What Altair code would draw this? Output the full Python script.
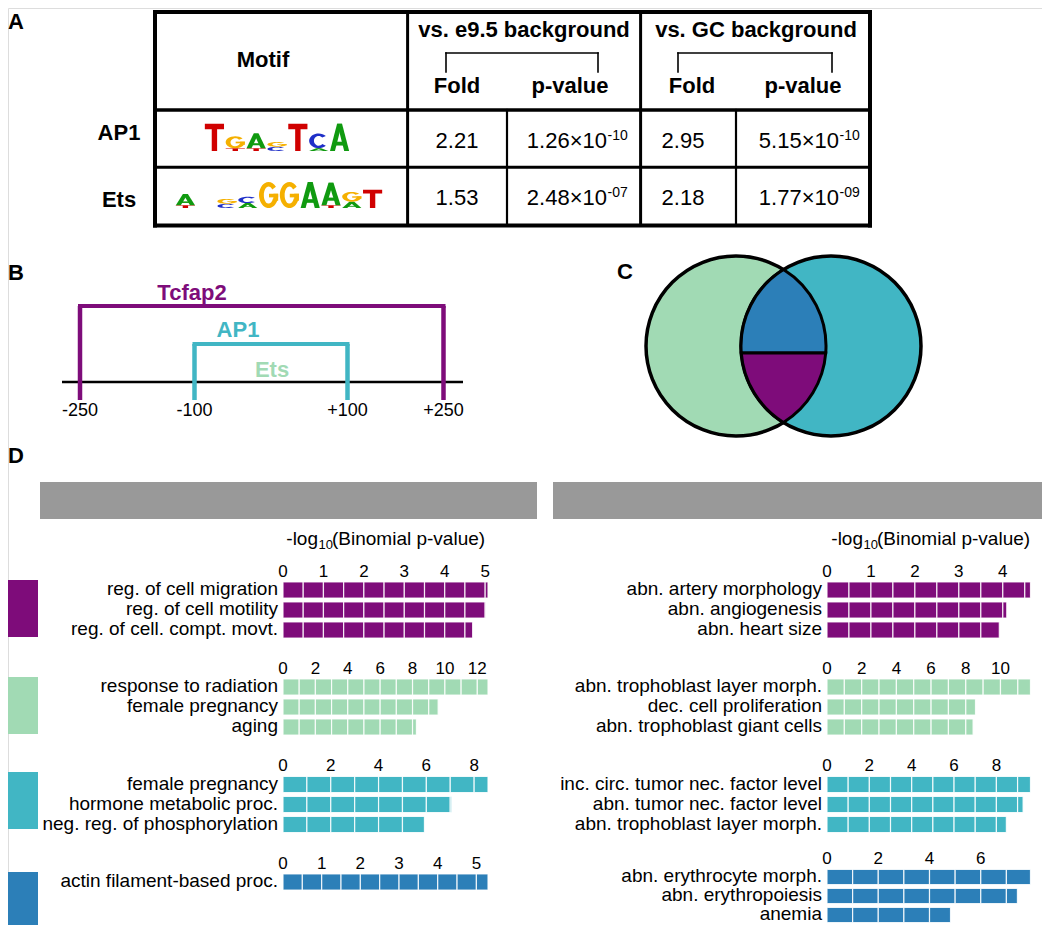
import math
import altair as alt
import pandas as pd

# ---------------------------------------------------------------- values
# Panel A : motif enrichment table
motifs = ["AP1", "Ets"]
fold_e95 = [2.21, 1.53]
pval_e95 = ["1.26", "2.48"]
pval_e95_exp = ["-10", "-07"]
fold_gc = [2.95, 2.18]
pval_gc = ["5.15", "1.77"]
pval_gc_exp = ["-10", "-09"]
motif_header = "Motif"
background_headers = ["vs. e9.5 background", "vs. GC background"]
sub_headers = ["Fold", "p-value"]

# sequence logos: one stack per position, (letter, bits) from bottom to top
ap1_logo = [[("T", 1.95)], [("T", 0.2), ("G", 0.85)], [("T", 0.2), ("A", 1.05)],
            [("C", 0.3), ("G", 0.35)], [("T", 1.95)], [("A", 0.2), ("C", 1.05)],
            [("A", 1.95)]]
ets_logo = [[("T", 0.2), ("A", 0.8)], [], [("C", 0.3), ("G", 0.35)],
            [("A", 0.35), ("C", 0.45)], [("G", 1.85)], [("G", 1.85)], [("A", 1.85)],
            [("T", 0.2), ("A", 1.6)], [("A", 0.45), ("G", 0.7)], [("T", 1.3)]]

# Panel B : motif windows around the peak
windows = ["Tcfap2", "AP1"]
window_start = [-250, -100]
window_end = [250, 100]
b_labels = ["Tcfap2", "AP1", "Ets"]
b_ticks = [-250, -100, 100, 250]
b_tick_labels = ["-250", "-100", "+100", "+250"]

# Panel C : Venn sets
venn_sets = ["Ets", "AP1"]

# Panel D : enrichment bars (-log10 binomial p-value)
left_cats = [
    ["reg. of cell migration", "reg. of cell motility", "reg. of cell. compt. movt."],
    ["response to radiation", "female pregnancy", "aging"],
    ["female pregnancy", "hormone metabolic proc.", "neg. reg. of phosphorylation"],
    ["actin filament-based proc."],
]
left_vals = [[5.07, 5.01, 4.69], [12.66, 9.58, 8.24], [8.58, 7.06, 5.92], [5.30]]
left_ticks = [[0, 1, 2, 3, 4, 5], [0, 2, 4, 6, 8, 10, 12], [0, 2, 4, 6, 8], [0, 1, 2, 3, 4, 5]]
right_cats = [
    ["abn. artery morphology", "abn. angiogenesis", "abn. heart size"],
    ["abn. trophoblast layer morph.", "dec. cell proliferation", "abn. trophoblast giant cells"],
    ["inc. circ. tumor nec. factor level", "abn. tumor nec. factor level",
     "abn. trophoblast layer morph."],
    ["abn. erythrocyte morph.", "abn. erythropoiesis", "anemia"],
]
right_vals = [[4.63, 4.09, 3.92], [11.73, 8.56, 8.42], [9.61, 9.26, 8.47], [7.94, 7.43, 4.82]]
right_ticks = [[0, 1, 2, 3, 4], [0, 2, 4, 6, 8, 10], [0, 2, 4, 6, 8], [0, 2, 4, 6]]
axis_title = ["-log", "10", "(Binomial p-value)"]

# ---------------------------------------------------------------- style / layout
OFF = 8
W, H = 1034, 917


def px(v):
    return v - OFF


FONT = "Liberation Sans, Arial, Helvetica, sans-serif"
PURPLE = "#7e0c7a"
GREEN = "#a1dab4"
CYAN = "#41b6c4"
BLUE = "#2c7fb8"
GRAY = "#999999"
group_colors = [PURPLE, GREEN, CYAN, BLUE]
LOGO_COLORS = {"A": "#109a10", "C": "#1f2fc8", "G": "#f5b000", "T": "#d00000"}
left_steps = [0.5, 1, 1, 0.5]
right_steps = [0.5, 1, 1, 1]


def text_layer(rows, size, weight="normal", align="center", color="black", font=FONT):
    df = pd.DataFrame([{"t": t, "x": px(x), "y": px(y)} for t, x, y in rows])
    return alt.Chart(df).mark_text(font=font, fontSize=size, fontWeight=weight, align=align,
                                   baseline="alphabetic", color=color).encode(
        x=alt.X("x:Q", scale=None, axis=None),
        y=alt.Y("y:Q", scale=None, axis=None),
        text="t:N")


def rule_layer(segs, color="black", cap="square"):
    df = pd.DataFrame([{"x1": px(a), "x2": px(b), "y1": px(c), "y2": px(d), "w": w}
                       for a, b, c, d, w in segs])
    return alt.Chart(df).mark_rule(color=color, strokeCap=cap).encode(
        x=alt.X("x1:Q", scale=None, axis=None), x2="x2:Q",
        y=alt.Y("y1:Q", scale=None, axis=None), y2="y2:Q",
        strokeWidth=alt.StrokeWidth("w:Q", scale=None, legend=None))


def rect_layer(rects):
    df = pd.DataFrame([{"x1": px(a), "x2": px(b), "y1": px(c), "y2": px(d), "c": col}
                       for a, b, c, d, col in rects])
    return alt.Chart(df).mark_rect().encode(
        x=alt.X("x1:Q", scale=None, axis=None), x2="x2:Q",
        y=alt.Y("y1:Q", scale=None, axis=None), y2="y2:Q",
        color=alt.Color("c:N", scale=None, legend=None))


layers = []

# ---------------------------------------------------------------- Panel A
TL, TR, TT, TB = 155, 870, 12, 225.5
HB, RS = 110, 167.3
layers.append(rule_layer([
    (TL, TR, TT, TT, 4), (TL, TR, TB, TB, 4), (TL, TL, TT, TB, 4), (TR, TR, TT, TB, 4),
    (TL, TR, HB, HB, 3.5), (TL, TR, RS, RS, 3),
    (407.6, 407.6, TT, TB, 3), (640.6, 640.6, TT, TB, 3),
    (507, 507, HB, TB, 2.2), (736, 736, HB, TB, 2.2),
    (446, 598, 53, 53, 1.6), (446, 446, 53, 72, 1.6), (598, 598, 53, 72, 1.6),
    (678, 832, 53, 53, 1.6), (678, 678, 53, 72, 1.6), (832, 832, 53, 72, 1.6),
]))
layers.append(text_layer(
    [(motif_header, 263, 67), (background_headers[0], 524, 37), (background_headers[1], 756, 37),
     (sub_headers[0], 457, 93), (sub_headers[1], 570, 93),
     (sub_headers[0], 692, 93), (sub_headers[1], 803, 93)], 22, weight="bold"))
row_base = [148, 205]
layers.append(text_layer([(m, 119, b) for m, b in zip(motifs, [140, 207])], 22, weight="bold"))
layers.append(text_layer(
    [(f"{v:.2f}", 457, b) for v, b in zip(fold_e95, row_base)]
    + [(f"{v:.2f}", 683, b) for v, b in zip(fold_gc, row_base)], 22))
layers.append(text_layer(
    [(m + "×10", 607, b) for m, b in zip(pval_e95, row_base)]
    + [(m + "×10", 839, b) for m, b in zip(pval_gc, row_base)], 22, align="right"))
layers.append(text_layer(
    [(e, 607.5, b - 8) for e, b in zip(pval_e95_exp, row_base)]
    + [(e, 839.5, b - 8) for e, b in zip(pval_gc_exp, row_base)], 14, align="left"))


# glyph outlines for logo letters (shape of a symbol drawn at its bottom-centre)
def _f(v):
    return f"{v:.2f}"


def _poly(pts):
    return "M " + " L ".join(f"{_f(x)} {_f(y)}" for x, y in pts) + " Z"


def _ring(w, h, a1, a2):
    rx, ry = w / 2, h / 2
    tx, ty = 0.25 * w, 0.17 * h
    irx, iry = rx - tx, ry - ty

    def pt(r1, r2, a):
        return _f(r1 * math.cos(math.radians(a))), _f(-h / 2 + r2 * math.sin(math.radians(a)))
    o1, o2 = pt(rx, ry, a1), pt(rx, ry, a2)
    i1, i2 = pt(irx, iry, a1), pt(irx, iry, a2)
    return (f"M {o1[0]} {o1[1]} A {_f(rx)} {_f(ry)} 0 1 0 {o2[0]} {o2[1]} "
            f"L {i2[0]} {i2[1]} A {_f(irx)} {_f(iry)} 0 1 1 {i1[0]} {i1[1]} Z")


def glyph(letter, w, h):
    hw = w / 2
    if letter == "T":
        s = 0.14 * w
        return [_poly([(-hw, -h), (hw, -h), (hw, -0.8 * h), (s, -0.8 * h), (s, 0),
                       (-s, 0), (-s, -0.8 * h), (-hw, -0.8 * h)])]
    if letter == "A":
        return [_poly([(-hw, 0), (-0.13 * w, -h), (0.12 * w, -h), (-0.24 * w, 0)]),
                _poly([(hw, 0), (0.13 * w, -h), (-0.12 * w, -h), (0.24 * w, 0)]),
                _poly([(-0.3 * w, -0.34 * h), (0.3 * w, -0.34 * h),
                       (0.3 * w, -0.2 * h), (-0.3 * w, -0.2 * h)])]
    if letter == "C":
        return [_ring(w, h, -42, 42)]
    # G
    return [_ring(w, h, -40, 22),
            _poly([(0.02 * w, -0.55 * h), (hw, -0.55 * h), (hw, -0.41 * h), (0.02 * w, -0.41 * h)]),
            _poly([(0.25 * w, -0.55 * h), (hw, -0.55 * h), (hw, -0.28 * h), (0.25 * w, -0.28 * h)])]


def logo_layer(columns, x0, x1, base_y, ppb=14.0):
    colw = (x1 - x0) / len(columns)
    rows = []
    for i, stack in enumerate(columns):
        cum = 0.0
        for letter, bits in stack:
            for path in glyph(letter, 0.92 * colw, bits * ppb):
                rows.append({"pos": i + 0.5, "y": px(base_y - cum * ppb), "shape": path,
                             "c": LOGO_COLORS[letter], "letter": letter})
            cum += bits
    return alt.Chart(pd.DataFrame(rows)).mark_point(filled=True, size=4, opacity=1,
                                                    strokeWidth=0).encode(
        x=alt.X("pos:Q", scale=alt.Scale(domain=[0, len(columns)], range=[px(x0), px(x1)],
                                         nice=False, zero=False), axis=None),
        y=alt.Y("y:Q", scale=None, axis=None),
        shape=alt.Shape("shape:N", scale=None, legend=None),
        color=alt.Color("c:N", scale=None, legend=None))


layers.append(logo_layer(ap1_logo, 204, 350, 151))
layers.append(logo_layer(ets_logo, 175, 383, 208))

# ---------------------------------------------------------------- Panel B
bx = alt.Scale(domain=b_ticks, range=[px(80), px(194.5), px(347.5), px(443.5)],
               zero=False, nice=False)
b_colors = {"Tcfap2": PURPLE, "AP1": CYAN, "Ets": GREEN}
b_level = {"Tcfap2": 306, "AP1": 344}
base_line = alt.Chart(pd.DataFrame({"k": [0]})).mark_rule(color="black", strokeWidth=2.5).encode(
    x=alt.value(px(62)), x2=alt.value(px(463)), y=alt.value(px(382)))
hdf = pd.DataFrame({"w": windows, "s": window_start, "e": window_end,
                    "y": [px(b_level[w]) for w in windows],
                    "c": [b_colors[w] for w in windows]})
hbars = alt.Chart(hdf).mark_rule(strokeWidth=4, strokeCap="square").encode(
    x=alt.X("s:Q", scale=bx, axis=None), x2="e:Q",
    y=alt.Y("y:Q", scale=None, axis=None),
    color=alt.Color("c:N", scale=None, legend=None))
vrows = []
for w, s, e in zip(windows, window_start, window_end):
    for p in (s, e):
        vrows.append({"w": w, "p": p, "y1": px(b_level[w]), "y2": px(400),
                      "c": b_colors[w]})
vbars = alt.Chart(pd.DataFrame(vrows)).mark_rule(strokeWidth=4.5).encode(
    x=alt.X("p:Q", scale=bx, axis=None),
    y=alt.Y("y1:Q", scale=None, axis=None), y2="y2:Q",
    color=alt.Color("c:N", scale=None, legend=None))
btick = alt.Chart(pd.DataFrame({"v": b_ticks, "t": b_tick_labels})).mark_text(
    font=FONT, fontSize=18, baseline="alphabetic", align="center", color="black").encode(
    x=alt.X("v:Q", scale=bx, axis=None), y=alt.value(px(415.5)), text="t:N")
layers.append(alt.layer(base_line, hbars, vbars, btick))
b_label_pos = {"Tcfap2": (192, 300), "AP1": (238, 337), "Ets": (272, 377)}
for lab in b_labels:
    layers.append(text_layer([(lab, *b_label_pos[lab])], 22, weight="bold",
                             color=b_colors[lab]))

# ---------------------------------------------------------------- Panel C (Venn)
R = 90.0
CX = [736.0, 831.0]
CY = 346.0
CHORD_Y = 353.0
vdf = pd.DataFrame({"set": venn_sets, "x": [px(c) for c in CX], "y": [px(CY)] * 2,
                    "f": [GREEN, CYAN]})
layers.append(alt.Chart(vdf).mark_point(shape="circle", filled=True, size=(2 * R) ** 2,
                                        stroke="black", strokeWidth=3.5, opacity=1).encode(
    x=alt.X("x:Q", scale=None, axis=None), y=alt.Y("y:Q", scale=None, axis=None),
    fill=alt.Fill("f:N", scale=None, legend=None)))
d = (CX[1] - CX[0]) / 2
hy = math.sqrt(R * R - d * d)
dy = CHORD_Y - CY
hw_ = math.sqrt(R * R - dy * dy) - d
top_path = (f"M {-hw_:.2f} {dy:.2f} A {R} {R} 0 0 1 0 {-hy:.2f} "
            f"A {R} {R} 0 0 1 {hw_:.2f} {dy:.2f} Z")
bot_path = (f"M {-hw_:.2f} {dy:.2f} L {hw_:.2f} {dy:.2f} A {R} {R} 0 0 1 0 {hy:.2f} "
            f"A {R} {R} 0 0 1 {-hw_:.2f} {dy:.2f} Z")
lens_x = (CX[0] + CX[1]) / 2
for path, col in ((top_path, BLUE), (bot_path, PURPLE)):
    layers.append(alt.Chart(pd.DataFrame({"k": [0]})).mark_point(
        shape=path, size=4, filled=True, fill=col, stroke="black", strokeWidth=3,
        opacity=1).encode(x=alt.value(px(lens_x)), y=alt.value(px(CY))))

# ---------------------------------------------------------------- panel letters
layers.append(text_layer([("A", 8, 29), ("B", 8, 280), ("C", 617, 279), ("D", 8, 463)],
                         22, weight="bold", align="left"))

# ---------------------------------------------------------------- Panel D
layers.append(rect_layer([(40, 537, 482, 519, GRAY), (553, 1050, 482, 519, GRAY)]))
for right_edge_log in (318, 863):
    layers.append(text_layer([(axis_title[0], right_edge_log, 545)], 19, align="right"))
    layers.append(text_layer([(axis_title[1], right_edge_log + 0.5, 549)], 13, align="left"))
    layers.append(text_layer([(axis_title[2], right_edge_log + 14, 545)], 19, align="left"))

swatch_tops = [580, 677, 772, 872]
layers.append(rect_layer([(0, 38, t, t + 57, c) for t, c in zip(swatch_tops, group_colors)]))

left_tops = [580, 677, 774.5, 872]
right_tops = [580, 677, 774.5, 867.5]
right_pitch = [20, 20, 20, 19]


def bar_group(cats, vals, color, step, ticks, top, pitch, x0, x1, label_x):
    segs = []
    for c, v in zip(cats, vals):
        k = 0.0
        while k < v - 1e-9:
            segs.append({"cat": c, "a": k, "b": min(k + step, v)})
            k += step
    xs = alt.Scale(domain=[0, max(vals)], range=[px(x0), px(x1)], nice=False, zero=True)
    ys = alt.Scale(domain=cats, range=[px(top), px(top + pitch * len(cats))],
                   paddingInner=0.2, paddingOuter=0.1)
    bars = alt.Chart(pd.DataFrame(segs)).mark_bar(color=color, stroke="white",
                                                  strokeWidth=1.2, strokeOpacity=0.85).encode(
        x=alt.X("a:Q", scale=xs, axis=None), x2="b:Q",
        y=alt.Y("cat:N", scale=ys, axis=None))
    tick_txt = alt.Chart(pd.DataFrame({"v": ticks, "t": [str(t) for t in ticks]})).mark_text(
        font=FONT, fontSize=17, baseline="alphabetic", align="center", color="black").encode(
        x=alt.X("v:Q", scale=xs, axis=None), y=alt.value(px(top - 3.5)), text="t:N")
    labs = alt.Chart(pd.DataFrame({"cat": cats})).mark_text(
        font=FONT, fontSize=19, align="right", baseline="middle", dy=-1, color="black").encode(
        x=alt.value(px(label_x)), y=alt.Y("cat:N", scale=ys, axis=None), text="cat:N")
    return alt.layer(bars, tick_txt, labs)


for i in range(4):
    layers.append(bar_group(left_cats[i], left_vals[i], group_colors[i], left_steps[i],
                            left_ticks[i], left_tops[i], 20, 283, 488, 278))
    layers.append(bar_group(right_cats[i], right_vals[i], group_colors[i], right_steps[i],
                            right_ticks[i], right_tops[i], right_pitch[i], 827, 1030.5, 822))

chart = alt.layer(*layers).resolve_scale(
    x="independent", y="independent", color="independent", size="independent",
    strokeWidth="independent", fill="independent", shape="independent"
).properties(
    width=W, height=H, autosize=alt.AutoSizeParams(type="none"), padding=0
).configure_view(stroke=None).configure(background="white")

chart.save("out.html", embed_options={"renderer": "svg", "actions": False})
